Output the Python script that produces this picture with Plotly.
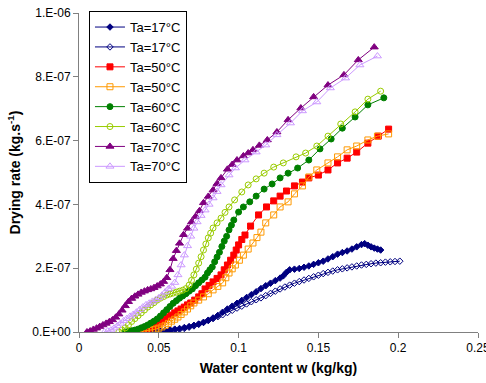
import numpy as np
import plotly.graph_objects as go

# Water content w (kg/kg) and drying rate (x 1e-7 kg/s)
w_17f = [.039,.042,.045,.048,.051,.054,.057,.060,.063,.066,.069,.072,.075,.078,.081,.084,.087,.090,.093,.096,.099,.102,.105,.108,.111,.114,.117,.120,.123,.126,.128,.130,.132,.135,.138,.141,.144,.147,.150,.153,.156,.159,.162,.165,.168,.171,.174,.177,.179,.181,.183,.185,.187,.189]
r_17f = [0,.01,.02,.02,.03,.05,.07,.09,.11,.14,.17,.21,.25,.30,.37,.44,.52,.62,.72,.81,.90,.99,1.08,1.17,1.26,1.36,1.45,1.53,1.61,1.69,1.76,1.87,1.95,1.97,1.99,2.03,2.07,2.12,2.17,2.22,2.29,2.36,2.44,2.49,2.54,2.60,2.67,2.74,2.77,2.72,2.67,2.63,2.60,2.57]

w_17o = [.045,.048,.051,.054,.057,.060,.063,.066,.069,.072,.075,.078,.081,.084,.087,.090,.093,.096,.099,.102,.105,.108,.111,.114,.117,.120,.123,.126,.129,.132,.135,.138,.141,.144,.147,.150,.153,.156,.159,.162,.165,.168,.171,.174,.177,.180,.183,.186,.189,.192,.195,.198,.201]
r_17o = [0,.01,.02,.03,.04,.06,.08,.11,.15,.19,.24,.30,.36,.42,.48,.54,.61,.68,.75,.81,.88,.95,1.01,1.07,1.14,1.21,1.28,1.35,1.41,1.47,1.53,1.58,1.63,1.68,1.73,1.78,1.83,1.87,1.91,1.95,1.98,2.01,2.04,2.07,2.10,2.12,2.14,2.16,2.17,2.19,2.20,2.21,2.22]

w_50f = [.039,.041,.043,.045,.047,.049,.051,.053,.055,.0575,.060,.062,.064,.066,.068,.070,.0725,.075,.077,.079,.0815,.084,.0865,.089,.091,.093,.095,.097,.0985,.100,.102,.104,.1075,.1125,.1175,.122,.126,.130,.135,.140,.144,.150,.156,.162,.168,.174,.181,.1875,.194]
r_50f = [0,.03,.07,.13,.18,.24,.31,.38,.45,.53,.60,.66,.72,.78,.85,.91,1.0,1.1,1.2,1.35,1.46,1.57,1.68,1.79,1.95,2.1,2.25,2.41,2.57,2.73,2.9,3.04,3.32,3.67,3.92,4.11,4.26,4.42,4.58,4.70,4.83,4.92,5.08,5.30,5.45,5.64,5.92,6.14,6.36]

w_50o = [.036,.038,.040,.042,.044,.046,.048,.050,.052,.054,.056,.058,.060,.062,.064,.066,.068,.070,.072,.075,.078,.081,.084,.087,.090,.092,.094,.096,.098,.1005,.103,.106,.109,.1115,.114,.117,.122,.126,.131,.135,.140,.144,.149,.156,.162,.168,.174,.181,.187,.194]
r_50o = [0,.01,.02,.03,.05,.07,.09,.12,.16,.21,.27,.34,.40,.47,.55,.63,.72,.82,.91,1.0,1.1,1.2,1.32,1.43,1.54,1.7,1.85,1.98,2.1,2.25,2.41,2.6,2.79,2.96,3.13,3.42,3.67,3.92,4.08,4.33,4.58,4.86,5.08,5.30,5.49,5.71,5.83,6.02,6.14,6.21]

w_60f = [.029,.031,.033,.035,.037,.039,.041,.043,.045,.047,.049,.051,.053,.055,.057,.059,.061,.063,.065,.067,.069,.071,.073,.075,.077,.079,.0805,.082,.0835,.085,.0865,.088,.0895,.091,.0925,.094,.0955,.097,.100,.103,.107,.111,.116,.121,.126,.131,.137,.144,.151,.158,.165,.173,.181,.191]
r_60f = [0,.02,.04,.06,.09,.13,.17,.22,.28,.34,.41,.50,.60,.70,.80,.90,.98,1.06,1.13,1.20,1.28,1.35,1.45,1.54,1.63,1.72,1.85,1.95,2.04,2.2,2.35,2.5,2.68,2.85,3.0,3.2,3.35,3.51,3.76,3.92,4.08,4.26,4.48,4.64,4.83,4.98,5.14,5.39,5.74,6.05,6.39,6.74,7.12,7.34]

w_60o = [.025,.027,.029,.031,.033,.035,.037,.039,.041,.043,.045,.047,.049,.051,.053,.055,.057,.059,.061,.063,.065,.067,.069,.0705,.072,.0735,.075,.0765,.078,.0795,.081,.0825,.084,.0865,.089,.0915,.094,.0975,.102,.106,.111,.116,.122,.128,.136,.142,.149,.156,.164,.173,.181,.189]
r_60o = [0,.06,.13,.22,.33,.42,.51,.60,.69,.78,.85,.92,1.0,1.06,1.11,1.16,1.19,1.22,1.25,1.28,1.31,1.36,1.47,1.62,1.79,1.97,2.16,2.36,2.57,2.76,2.95,3.1,3.26,3.42,3.57,3.75,3.92,4.14,4.39,4.61,4.80,4.98,5.17,5.30,5.49,5.61,5.83,6.14,6.52,6.90,7.30,7.55]

w_70f = [.005,.007,.009,.011,.013,.015,.017,.019,.021,.023,.025,.027,.029,.031,.033,.035,.037,.039,.041,.043,.045,.047,.049,.051,.053,.055,.057,.059,.061,.063,.0655,.068,.0705,.073,.0755,.078,.081,.084,.0865,.089,.093,.096,.099,.103,.106,.109,.113,.118,.124,.131,.139,.147,.156,.166,.175,.185]
r_70f = [0,.03,.08,.12,.17,.22,.27,.32,.38,.46,.56,.68,.82,.95,1.05,1.12,1.18,1.24,1.28,1.32,1.35,1.39,1.44,1.50,1.58,1.70,1.95,2.30,2.55,2.78,3.05,3.25,3.45,3.62,3.80,4.05,4.25,4.45,4.65,4.83,5.10,5.25,5.39,5.52,5.61,5.71,5.85,6.02,6.27,6.65,7.02,7.37,7.74,8.06,8.53,8.93]

w_70o = [.016,.018,.020,.022,.024,.026,.028,.030,.032,.034,.036,.038,.040,.042,.044,.046,.048,.050,.052,.054,.056,.058,.060,.062,.064,.066,.068,.070,.072,.074,.0765,.079,.0815,.084,.0865,.089,.094,.098,.104,.111,.117,.124,.1325,.140,.149,.1575,.167,.176,.187]
r_70o = [0,.03,.06,.12,.19,.27,.35,.42,.49,.55,.62,.70,.78,.85,.90,.96,1.01,1.07,1.15,1.25,1.35,1.43,1.55,1.79,2.1,2.41,2.7,3.0,3.25,3.45,3.65,3.82,4.0,4.2,4.4,4.61,4.92,5.14,5.39,5.64,5.86,6.18,6.55,6.93,7.21,7.65,7.96,8.37,8.65]

names = ["Ta=17°C", "Ta=17°C", "Ta=50°C", "Ta=50°C", "Ta=60°C", "Ta=60°C", "Ta=70°C", "Ta=70°C"]
xs = [w_17f, w_17o, w_50f, w_50o, w_60f, w_60o, w_70f, w_70o]
ys = [r_17f, r_17o, r_50f, r_50o, r_60f, r_60o, r_70f, r_70o]
colors = ["#000080", "#000080", "#FF0000", "#FF9900", "#008000", "#99CC00", "#800080", "#CC99FF"]
symbols = ["diamond", "diamond-open", "square", "square-open", "circle", "circle-open", "triangle-up", "triangle-up-open"]
sizes = [5, 5, 6, 6, 6, 6, 7, 7]

y_ticks = [0, 2e-7, 4e-7, 6e-7, 8e-7, 1e-6]
y_labels = ["0.E+00", "2.E-07", "4.E-07", "6.E-07", "8.E-07", "1.E-06"]
x_ticks = [0, 0.05, 0.1, 0.15, 0.2, 0.25]
x_labels = ["0", "0.05", "0.1", "0.15", "0.2", "0.25"]

fig = go.Figure()
for x, y, n, c, s, sz in zip(xs, ys, names, colors, symbols, sizes):
    fig.add_trace(go.Scatter(
        x=x, y=np.array(y) * 1e-7, name=n, mode="lines+markers",
        line=dict(color=c, width=1),
        marker=dict(symbol=s, size=sz, color=c, line=dict(color=c, width=1)),
    ))

fig.update_layout(
    width=486, height=383,
    margin=dict(l=79, r=8, t=13, b=51),
    paper_bgcolor="white", plot_bgcolor="white",
    font=dict(family="Liberation Sans, Arial", size=12, color="black"),
    showlegend=True,
    legend=dict(
        x=0.025, y=1.006, xanchor="left", yanchor="top",
        bgcolor="white", bordercolor="black", borderwidth=1,
        font=dict(size=13, family="Liberation Sans, Arial"),
        tracegroupgap=0, itemwidth=30,
    ),
    xaxis=dict(
        range=[0, 0.25], tickvals=x_ticks, ticktext=x_labels, automargin=False,
        showgrid=False, zeroline=False, showline=True, linecolor="#808080", linewidth=1,
        ticks="outside", ticklen=5, tickcolor="#808080", ticklabeloverflow="allow",
        title=dict(text="<b>Water content w (kg/kg)</b>", font=dict(size=14), standoff=8),
        tickfont=dict(size=12),
    ),
    yaxis=dict(
        range=[0, 1e-6], tickvals=y_ticks, ticktext=y_labels, automargin=False,
        showgrid=False, zeroline=False, showline=True, linecolor="#808080", linewidth=1,
        ticks="outside", ticklen=5, tickcolor="#808080",
        title=dict(text="<b>Drying rate (kg.s<sup>-1</sup>)</b>", font=dict(size=14), standoff=8),
        tickfont=dict(size=12),
    ),
)

fig.write_html("out.html")
